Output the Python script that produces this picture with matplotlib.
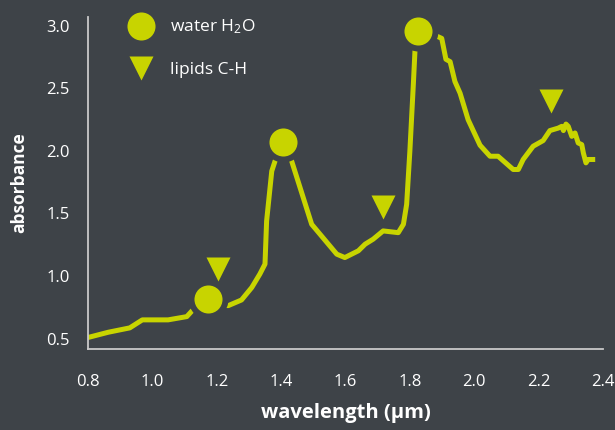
import matplotlib
matplotlib.use("Agg")
import matplotlib.pyplot as plt
from matplotlib.lines import Line2D

plt.rcParams['font.family'] = ['Open Sans', 'DejaVu Sans']
plt.rcParams['mathtext.default'] = 'regular'

# absorbance spectrum
wavelength = [0.800, 0.863, 0.930, 0.969, 1.049, 1.107, 1.124, 1.160, 1.236, 1.277,
              1.309, 1.334, 1.350, 1.355, 1.371, 1.381, 1.406, 1.433, 1.495, 1.573,
              1.598, 1.640, 1.661, 1.686, 1.717, 1.764, 1.780, 1.790, 1.800, 1.811,
              1.816, 1.840, 1.888, 1.899, 1.912, 1.925, 1.940, 1.956, 1.981, 2.018,
              2.049, 2.074, 2.121, 2.137, 2.152, 2.183, 2.214, 2.235, 2.261, 2.272,
              2.277, 2.285, 2.292, 2.303, 2.313, 2.323, 2.334, 2.339, 2.347, 2.354,
              2.368]
absorbance = [0.508, 0.550, 0.585, 0.649, 0.649, 0.675, 0.723, 0.770, 0.763, 0.808,
              0.908, 1.015, 1.095, 1.439, 1.838, 1.917, 2.070, 1.917, 1.413, 1.174,
              1.147, 1.201, 1.254, 1.294, 1.360, 1.346, 1.413, 1.572, 1.997, 2.541,
              2.807, 2.960, 2.912, 2.899, 2.732, 2.713, 2.554, 2.461, 2.249, 2.045,
              1.957, 1.957, 1.851, 1.851, 1.931, 2.037, 2.082, 2.162, 2.182, 2.196,
              2.162, 2.214, 2.196, 2.116, 2.143, 2.063, 2.050, 1.983, 1.904, 1.931,
              1.931]

# water peaks (circles) and lipid C-H bands (triangles)
water_x = [1.173, 1.406, 1.825]
water_y = [0.818, 2.072, 2.960]
lipid_x = [1.204, 1.716, 2.238]
lipid_y = [1.057, 1.551, 2.395]

bg = '#3e4348'
lime = '#c8d400'
axis_col = '#c9c9c9'

fig = plt.figure(figsize=(6.15, 4.30), dpi=100, facecolor=bg)
ax = fig.add_axes([0.143, 0.1895, 0.8375, 0.771])
ax.set_facecolor(bg)

ax.plot(wavelength, absorbance, color=lime, lw=3.6, zorder=2)
# background rings so the line stops short of the circles
ax.plot(water_x, water_y, 'o', ms=28.8, color=bg, mec='none', zorder=3)
ax.plot(water_x, water_y, 'o', ms=20.2, color=lime, mec='none', zorder=4)
ax.plot(lipid_x, lipid_y, 'v', ms=17.5, color=lime, mec='none', zorder=4)

ax.set_xlim(0.8, 2.4)
ax.set_ylim(0.42, 3.07)
ax.set_xticks([0.8, 1.0, 1.2, 1.4, 1.6, 1.8, 2.0, 2.2, 2.4])
ax.set_yticks([0.5, 1.0, 1.5, 2.0, 2.5, 3.0])
ax.set_xticklabels(['0.8', '1.0', '1.2', '1.4', '1.6', '1.8', '2.0', '2.2', '2.4'])
ax.set_yticklabels(['0.5', '1.0', '1.5', '2.0', '2.5', '3.0'])
ax.tick_params(axis='both', length=0, labelsize=12, labelcolor='white')
ax.tick_params(axis='x', pad=18)
ax.tick_params(axis='y', pad=13)

for s in ['top', 'right']:
    ax.spines[s].set_visible(False)
for s in ['left', 'bottom']:
    ax.spines[s].set_color(axis_col)
    ax.spines[s].set_linewidth(1.3)

ax.set_xlabel('wavelength (µm)', fontsize=14.5, fontweight='bold', color='white', labelpad=10)
ax.set_ylabel('absorbance', fontsize=12.5, fontweight='bold', color='white', labelpad=13)

handles = [Line2D([], [], ls='none', marker='o', ms=20.2, color=lime, mec='none'),
           Line2D([], [], ls='none', marker='v', ms=17.5, color=lime, mec='none')]
leg = ax.legend(handles, ['water H$_{2}$O', 'lipids C-H'], loc='upper left',
                bbox_to_anchor=(0.052, 1.045), frameon=False, fontsize=12.5,
                labelcolor='white', handletextpad=1.07, labelspacing=1.45,
                handlelength=1.2)

fig.savefig('out.png', dpi=100, facecolor=bg)
